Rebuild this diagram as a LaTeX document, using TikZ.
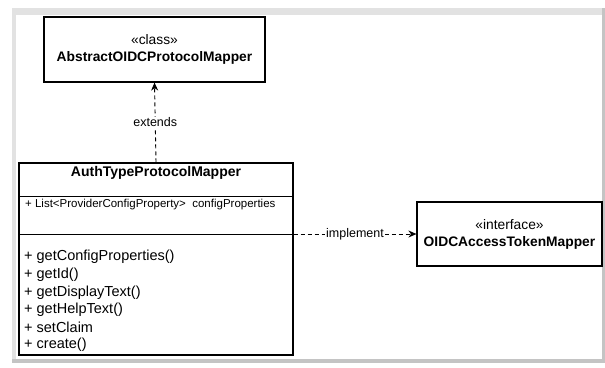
\documentclass[tikz,border=0pt]{standalone}
\usepackage{fontspec}
\setmainfont{Liberation Sans}
\usetikzlibrary{arrows.meta}
\definecolor{framegray}{HTML}{E2E2E2}
\definecolor{shadegray}{HTML}{C4C4C4}

\begin{document}
\begin{tikzpicture}[x=1pt,y=-1pt,
  umlbox/.style={draw,line width=1.2pt,inner sep=0pt,align=center,
    font=\fontsize{13.8}{17}\selectfont},
  link/.style={line width=0.9pt,dash pattern=on 4pt off 3pt,
    -{Stealth[length=8pt,width=7pt]}},
  linklabel/.style={fill=white,inner sep=1pt,font=\fontsize{12.5}{14}\selectfont},
  member/.style={anchor=west,inner sep=0pt,font=\fontsize{14.5}{16}\selectfont}]
  \useasboundingbox (0,0) rectangle (605,367);
  % frame around the canvas
  \fill[shadegray] (12,8) rectangle (605,363);
  \fill[framegray] (12,8) rectangle (602,15);
  \fill[framegray] (12,8) rectangle (16,359);
  \fill[white] (16,15) rectangle (602,359);

  % classes
  \node[umlbox,minimum width=221pt,minimum height=65pt] (abstract) at (154.5,49.5)
    {«class»\\\textbf{AbstractOIDCProtocolMapper}};
  \node[umlbox,minimum width=185pt,minimum height=64pt] (iface) at (509.5,234)
    {«interface»\\\textbf{OIDCAccessTokenMapper}};
  \node[draw,line width=1.2pt,minimum width=274pt,minimum height=192pt] (auth) at (156,259) {};
  \draw[line width=1.2pt] (auth.north west) ++(0,34) -- ++(274,0);
  \draw[line width=1.2pt] (auth.north west) ++(0,72) -- ++(274,0);
  \node[font=\fontsize{14}{16}\selectfont\bfseries] (authname) at (156,173) {AuthTypeProtocolMapper};
  \node[member,font=\fontsize{11.5}{13}\selectfont] (attr) at (25,205)
    {+ List<ProviderConfigProperty>\ \ configProperties};
  \foreach \m [count=\i] in {getConfigProperties(),getId(),getDisplayText(),
      getHelpText(),setClaim,create()} {
    \node[member] (m\i) at (24,239.5+17.6*\i) {+ \m};
  }

  % relations
  \draw[link] (auth.north) -- node[linklabel] {extends} (abstract.south);
  \draw[link] (auth.east |- iface.west) -- node[linklabel] {implement} (iface.west);
\end{tikzpicture}
\end{document}
